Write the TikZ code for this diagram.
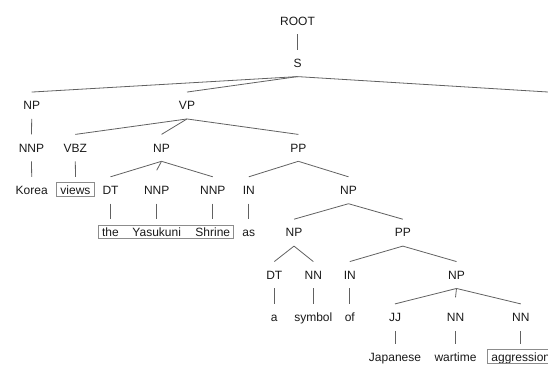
\documentclass[tikz,border=0pt]{standalone}
\usepackage{fontspec}
\setmainfont{Liberation Sans}
\begin{document}
\begin{tikzpicture}[x=1pt,y=-1pt,
  lbl/.style={inner sep=0pt, anchor=base, text height=17.5pt, text depth=9pt,
    font=\fontsize{12}{14}\selectfont, text=black!90},
  edge/.style={draw=black!62, line width=0.8pt},
  wordbox/.style={draw=black!45, line width=0.8pt}]
\useasboundingbox (0,0) rectangle (548,365);
% rows (baselines)
\def\ra{25}\def\rb{67.4}\def\rc{109.75}\def\rd{152.1}\def\re{194.5}
\def\rf{236.9}\def\rg{279.25}\def\rh{321.6}\def\ri{361.6}
% phrase labels
\node[lbl] (root) at (297.5,\ra) {ROOT};
\node[lbl] (s) at (297.5,\rb) {S};
\node[lbl] (np1) at (31.7,\rc) {NP};
\node[lbl] (vp) at (187,\rc) {VP};
\coordinate (sright) at (548,92);
\node[lbl] (nnp1) at (31.5,\rd) {NNP};
\node[lbl] (vbz) at (75.3,\rd) {VBZ};
\node[lbl] (np2) at (161.5,\rd) {NP};
\node[lbl] (pp1) at (298.3,\rd) {PP};
\node[lbl] (korea) at (31.7,\re) {Korea};
\node[lbl] (views) at (75.5,\re) {views};
\node[lbl] (dt1) at (110.5,\re) {DT};
\node[lbl] (nnp2) at (156.7,\re) {NNP};
\node[lbl] (nnp3) at (212.8,\re) {NNP};
\node[lbl] (in1) at (248.8,\re) {IN};
\node[lbl] (np3) at (348.5,\re) {NP};
\node[lbl] (the) at (110.5,\rf) {the};
\node[lbl] (yasukuni) at (156.7,\rf) {Yasukuni};
\node[lbl] (shrine) at (212.8,\rf) {Shrine};
\node[lbl] (as) at (248.8,\rf) {as};
\node[lbl] (np4) at (294,\rf) {NP};
\node[lbl] (pp2) at (402.8,\rf) {PP};
\node[lbl] (dt2) at (274.3,\rg) {DT};
\node[lbl] (nn1) at (313.3,\rg) {NN};
\node[lbl] (in2) at (349.8,\rg) {IN};
\node[lbl] (np5) at (456.5,\rg) {NP};
\node[lbl] (a) at (274.3,\rh) {a};
\node[lbl] (symbol) at (313.3,\rh) {symbol};
\node[lbl] (of) at (349.8,\rh) {of};
\node[lbl] (jj) at (395,\rh) {JJ};
\node[lbl] (nn2) at (455.5,\rh) {NN};
\node[lbl] (nn3) at (520.8,\rh) {NN};
\node[lbl] (japanese) at (395,\ri) {Japanese};
\node[lbl] (wartime) at (455.5,\ri) {wartime};
\node[lbl] (aggression) at (520.8,\ri) {aggression};
% branches
\draw[edge] (root.south) -- (s.north);
\draw[edge] (s.south) -- (np1.north);
\draw[edge] (s.south) -- (vp.north);
\draw[edge] (s.south) -- (sright);
\draw[edge] (np1.south) -- (nnp1.north);
\draw[edge] (vp.south) -- (vbz.north);
\draw[edge] (vp.south) -- (np2.north);
\draw[edge] (vp.south) -- (pp1.north);
\draw[edge] (nnp1.south) -- (korea.north);
\draw[edge] (vbz.south) -- (views.north);
\draw[edge] (np2.south) -- (dt1.north);
\draw[edge] (np2.south) -- ([yshift=6.5pt]nnp2.north);
\draw[edge] (np2.south) -- (nnp3.north);
\draw[edge] (pp1.south) -- (in1.north);
\draw[edge] (pp1.south) -- (np3.north);
\draw[edge] (dt1.south) -- (the.north);
\draw[edge] (nnp2.south) -- (yasukuni.north);
\draw[edge] (nnp3.south) -- (shrine.north);
\draw[edge] (in1.south) -- (as.north);
\draw[edge] (np3.south) -- (np4.north);
\draw[edge] (np3.south) -- (pp2.north);
\draw[edge] (np4.south) -- (dt2.north);
\draw[edge] (np4.south) -- (nn1.north);
\draw[edge] (pp2.south) -- (in2.north);
\draw[edge] (pp2.south) -- (np5.north);
\draw[edge] (dt2.south) -- (a.north);
\draw[edge] (nn1.south) -- (symbol.north);
\draw[edge] (in2.south) -- (of.north);
\draw[edge] (np5.south) -- (jj.north);
\draw[edge] (np5.south) -- ([yshift=6.5pt]nn2.north);
\draw[edge] (np5.south) -- (nn3.north);
\draw[edge] (jj.south) -- (japanese.north);
\draw[edge] (nn2.south) -- (wartime.north);
\draw[edge] (nn3.south) -- (aggression.north);
% framed words
\draw[wordbox] ([shift={(-3.5,-12)}]views.base west) rectangle ([shift={(3.5,1.5)}]views.base east);
\draw[wordbox] ([shift={(-3.5,-12)}]the.base west) rectangle ([shift={(3.5,1.5)}]shrine.base east);
\draw[wordbox] ([shift={(-3.5,-12)}]aggression.base west) rectangle ([shift={(3.5,1.5)}]aggression.base east);
\end{tikzpicture}
\end{document}
